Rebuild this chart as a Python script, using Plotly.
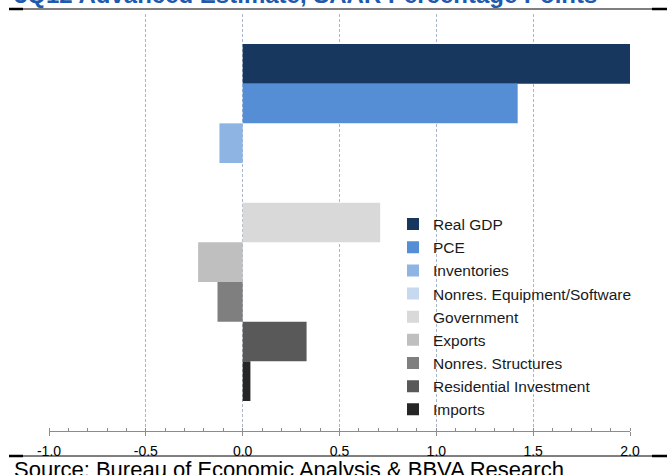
import plotly.graph_objects as go

# ---- data ----
categories = ["Real GDP", "PCE", "Inventories", "Nonres. Equipment/Software",
              "Government", "Exports", "Nonres. Structures",
              "Residential Investment", "Imports"]
values = [2.00, 1.42, -0.12, 0.00, 0.71, -0.23, -0.13, 0.33, 0.04]
tick_vals = [-1.0, -0.5, 0.0, 0.5, 1.0, 1.5, 2.0]
tick_text = ["-1.0", "-0.5", "0.0", "0.5", "1.0", "1.5", "2.0"]
group_label = ["3Q12"]
title_text = "3Q12 Advanced Estimate, SAAR Percentage Points"
source_text = "Source: Bureau of Economic Analysis & BBVA Research"

# ---- styles ----
colors = ["#17375E", "#558ED5", "#8EB4E3", "#C6D9F1", "#D9D9D9",
          "#BFBFBF", "#7F7F7F", "#595959", "#262626"]

W, H = 670, 475
L, R, T, B = 49, 40, 14, 44
pw = W - L - R
ph = H - T - B


def px(x):
    return (x - L) / pw


def py(y):
    return (H - B - y) / ph


fig = go.Figure()
for name, v, c in zip(categories, values, colors):
    fig.add_trace(go.Bar(y=group_label, x=[v], name=name, orientation="h",
                         marker=dict(color=c, line=dict(width=0))))

FONT = "Arial, Liberation Sans, sans-serif"
axis_grey = "#8C8C8C"

shapes = []
for yy in (9, 456):
    shapes.append(dict(type="line", xref="paper", yref="paper",
                       x0=px(9), x1=px(667), y0=py(yy), y1=py(yy),
                       line=dict(color="#000000", width=1), layer="above"))
    shapes.append(dict(type="line", xref="paper", yref="paper",
                       x0=px(9), x1=px(23), y0=py(yy), y1=py(yy),
                       line=dict(color="#000000", width=2.5), layer="above"))
    shapes.append(dict(type="line", xref="paper", yref="paper",
                       x0=px(652), x1=px(667), y0=py(yy), y1=py(yy),
                       line=dict(color="#000000", width=2.5), layer="above"))

fig.update_layout(
    width=W, height=H,
    margin=dict(l=L, r=R, t=T, b=B),
    paper_bgcolor="white", plot_bgcolor="white",
    barmode="group", bargap=0.144, bargroupgap=0,
    font=dict(family=FONT, color="#000000"),
    xaxis=dict(range=[-1, 2], tickmode="array", tickvals=tick_vals,
               ticktext=tick_text, showgrid=True, gridcolor="#A9B6C9",
               griddash="3px,2px", gridwidth=1, zeroline=False,
               showline=True, linecolor=axis_grey, linewidth=1,
               ticks="outside", ticklen=4, tickcolor=axis_grey,
               tickfont=dict(family=FONT, size=14, color="#000000"),
               ticklabelstandoff=3,
               minor=dict(tickmode="linear", tick0=-1, dtick=0.1,
                          ticks="inside", ticklen=3, tickcolor=axis_grey,
                          showgrid=False)),
    yaxis=dict(visible=False, autorange="reversed"),
    showlegend=True,
    legend=dict(x=px(393), y=py(317), xanchor="left", yanchor="middle",
                bgcolor="rgba(0,0,0,0)", traceorder="normal",
                font=dict(family=FONT, size=15.5, color="#1A1A1A")),
    shapes=shapes,
    annotations=[
        dict(text=title_text, xref="paper", yref="paper", x=px(12),
             y=py(10), xanchor="left", yanchor="bottom", showarrow=False,
             font=dict(family=FONT, size=24, color="#1E5AAE", weight="bold")),
        dict(text=source_text, xref="paper", yref="paper", x=px(12),
             y=py(455), xanchor="left", yanchor="top", showarrow=False,
             font=dict(family=FONT, size=22, color="#000000")),
    ],
)

fig.write_html(
    "out.html",
    config={"displayModeBar": False},
    post_script="document.body.style.margin='0';document.body.style.padding='0';",
)
